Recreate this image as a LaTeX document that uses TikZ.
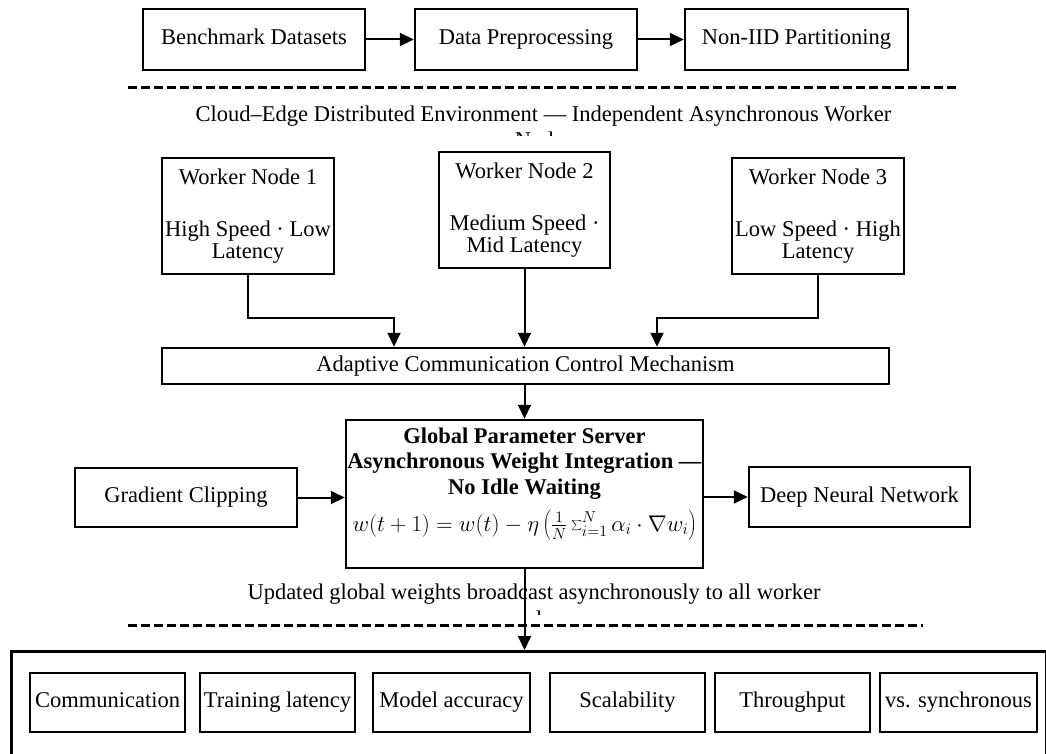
\RequirePackage{fix-cm}
\documentclass[tikz,border=0pt]{standalone}
\usepackage{fontspec}
\setmainfont{Liberation Serif}
\usepackage{graphicx}
\usetikzlibrary{arrows.meta,calc}
\begin{document}
\begin{tikzpicture}[x=1pt,y=-1pt,
  every node/.style={font=\fontsize{22.5}{24}\selectfont},
  box/.style={draw,line width=2.5pt,fill=white,inner sep=0pt,align=center},
  one/.style={text height=15pt,text depth=5pt},
  worker/.style={box,minimum height=116,font=\fontsize{22.5}{21.5}\selectfont},
  conn/.style={line width=2pt,-{Triangle[length=14pt,width=13pt]}},
  sep/.style={line width=3pt,dash pattern=on 9pt off 4pt},
  lbl/.style={anchor=base,inner sep=0pt}]
\useasboundingbox (0,0) rectangle (1046,754);
\clip (0,0) rectangle (1046,754);

% top pipeline
\node[box,one,minimum width=222,minimum height=61] (bench) at (254,39.5) {Benchmark Datasets};
\node[box,one,minimum width=222,minimum height=61] (data) at (526,39.5) {Data Preprocessing};
\node[box,one,minimum width=223,minimum height=61] (noniid) at (796.5,39.5) {Non-IID Partitioning};
\draw[conn] (bench.east) -- (data.west);
\draw[conn] (data.east) -- (noniid.west);

% separator 1 and label
\coordinate (s1a) at (128,88);
\coordinate (s1b) at (958,88);
\draw[sep] (s1a) -- (s1b);
\node[lbl] (env) at (543.5,122) {Cloud–Edge Distributed Environment — Independent Asynchronous Worker};
\begin{scope}
  \clip (400,100) rectangle (700,136);
  \node[lbl] (envb) at (543.5,148) {Nodes};
\end{scope}

% worker nodes
\node[worker,minimum width=172] (wn1) at (248,216) {Worker Node 1\\[31pt]High Speed · Low\\Latency};
\node[worker,minimum width=171] (wn2) at (524.5,210) {Worker Node 2\\[31pt]Medium Speed ·\\Mid Latency};
\node[worker,minimum width=172] (wn3) at (818,216) {Worker Node 3\\[31pt]Low Speed · High\\Latency};

% adaptive communication control
\node[box,one,minimum width=727,minimum height=36] (acc) at (525.5,366) {Adaptive Communication Control Mechanism};

\coordinate (j1) at (394,318);
\coordinate (j3) at (657,318);
\draw[conn] (wn1.south) |- (j1) -- (j1 |- acc.north);
\draw[conn] (wn2.south) -- (wn2.south |- acc.north);
\draw[conn] (wn3.south) |- (j3) -- (j3 |- acc.north);

% global parameter server
\node[box,minimum width=357,minimum height=148] (gps) at (524.5,494) {};
\node[anchor=north,inner sep=0pt,align=center,font=\fontsize{22.5}{25.5}\selectfont] (gpstext) at (524.5,427.6) {\textbf{Global Parameter Server}\\\textbf{Asynchronous Weight Integration —}\\\textbf{No Idle Waiting}\\[10pt]\resizebox{344pt}{!}{$w(t+1)=w(t)-\eta\left(\frac{1}{N}\sum_{i=1}^{N}\alpha_i\cdot\nabla w_i\right)$}};
\draw[conn] (gps.north |- acc.south) -- (gps.north);

\node[box,one,minimum width=222,minimum height=59] (grad) at (186,497.5) {Gradient Clipping};
\node[box,one,minimum width=221,minimum height=60] (dnn) at (859.5,497) {Deep Neural Network};
\draw[conn] (grad.east) -- (grad.east -| gps.west);
\draw[conn] (gps.east |- dnn.west) -- (dnn.west);

% broadcast label and separator 2
\coordinate (s2a) at (128,625);
\coordinate (s2b) at (923,625);
\draw[sep] (s2a) -- (s2b);
\node[lbl] (bc) at (534,599) {Updated global weights broadcast asynchronously to all worker};
\begin{scope}
  \clip (300,560) rectangle (800,614);
  \node[lbl] (bcb) at (534,626) {nodes};
\end{scope}

% evaluation container
\node[box,minimum width=1034.5,minimum height=150,anchor=north west] (cont) at (10,650) {};
\draw[conn] (gps.south) -- (gps.south |- cont.north);

\node[box,one,minimum width=155,minimum height=59] (b1) at (107.5,702.5) {Communication};
\node[box,one,minimum width=155,minimum height=59] (b2) at (277.5,702.5) {Training latency};
\node[box,one,minimum width=157,minimum height=59] (b3) at (451.5,702.5) {Model accuracy};
\node[box,one,minimum width=155,minimum height=59] (b4) at (627.5,702.5) {Scalability};
\node[box,one,minimum width=155,minimum height=59] (b5) at (792.5,702.5) {Throughput};
\node[box,one,minimum width=157,minimum height=59] (b6) at (958.5,702.5) {vs. synchronous};
\end{tikzpicture}
\end{document}
